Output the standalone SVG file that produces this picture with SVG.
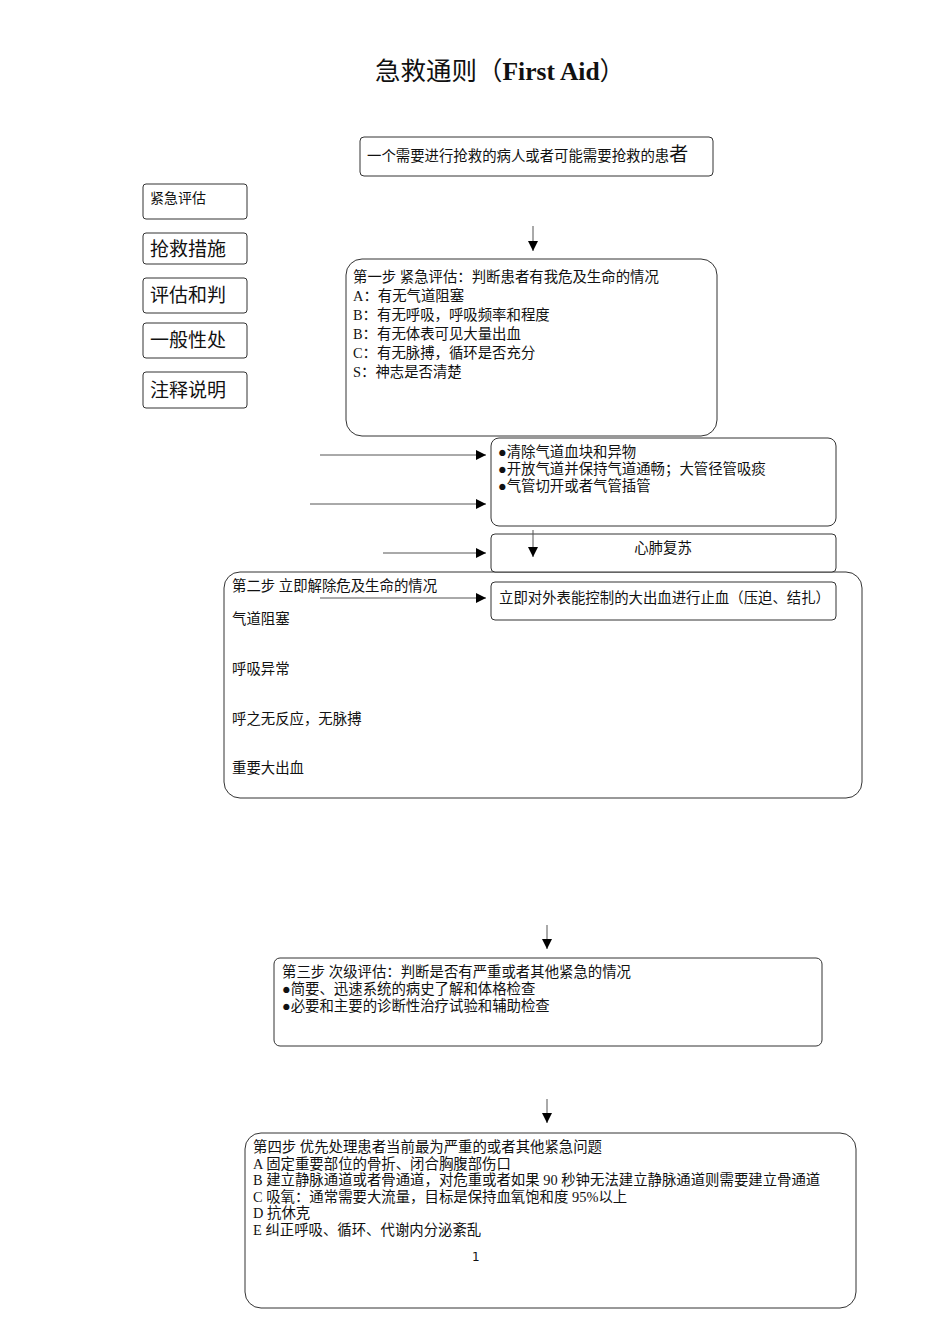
<svg xmlns="http://www.w3.org/2000/svg" width="950" height="1344" viewBox="0 0 950 1344">
<style>
.box{fill:#fff;stroke:#333;stroke-width:1}
.t{font-family:"Liberation Serif","Noto Sans CJK SC",serif;font-size:14.4px;fill:#111}
.lg{font-size:19px}
.sm{font-size:14px}
.ln{stroke:#555;stroke-width:1;fill:none}
</style>
<defs>
<marker id="ah" viewBox="0 0 10 10" refX="10" refY="5" markerWidth="10" markerHeight="10" markerUnits="userSpaceOnUse" orient="auto">
<path d="M0,0 L10,5 L0,10 Z" fill="#000"/>
</marker>
</defs>
<rect width="950" height="1344" fill="#fff"/>
<text id="title" x="375" y="80" class="t" style="font-size:25.5px">急救通则（<tspan font-weight="bold">First Aid</tspan>）</text>

<g id="legend1"><rect class="box" x="143" y="184" width="104" height="35" rx="3"/><text class="t sm" x="150" y="203">紧急评估</text></g>
<g id="legend2"><rect class="box" x="143" y="233" width="104" height="31" rx="3"/><text class="t lg" x="150" y="256">抢救措施</text></g>
<g id="legend3"><rect class="box" x="143" y="278" width="104" height="35" rx="3"/><text class="t lg" x="150" y="302">评估和判</text></g>
<g id="legend4"><rect class="box" x="143" y="323" width="104" height="35" rx="3"/><text class="t lg" x="150" y="347">一般性处</text></g>
<g id="legend5"><rect class="box" x="143" y="372" width="104" height="36" rx="3"/><text class="t lg" x="150" y="397">注释说明</text></g>

<g id="patient"><rect class="box" x="360" y="137" width="353" height="39" rx="4"/><text class="t" x="367" y="161">一个需要进行抢救的病人或者可能需要抢救的患<tspan style="font-size:19px">者</tspan></text></g>

<g id="step1"><rect class="box" x="346" y="259" width="371" height="177" rx="16"/>
<text class="t" x="353" y="282">第一步 紧急评估：判断患者有我危及生命的情况</text>
<text class="t" x="353" y="301">A：有无气道阻塞</text>
<text class="t" x="353" y="320">B：有无呼吸，呼吸频率和程度</text>
<text class="t" x="353" y="339">B：有无体表可见大量出血</text>
<text class="t" x="353" y="358">C：有无脉搏，循环是否充分</text>
<text class="t" x="353" y="377">S：神志是否清楚</text>
</g>

<g id="airway"><rect class="box" x="491" y="438" width="345" height="88" rx="8"/>
<text class="t" x="498" y="457">●清除气道血块和异物</text>
<text class="t" x="498" y="474">●开放气道并保持气道通畅；大管径管吸痰</text>
<text class="t" x="498" y="491">●气管切开或者气管插管</text>
</g>

<g id="step2"><rect class="box" x="224" y="572" width="638" height="226" rx="16"/>
<text class="t" x="232" y="591">第二步 立即解除危及生命的情况</text>
<text class="t" x="232" y="624">气道阻塞</text>
<text class="t" x="232" y="674">呼吸异常</text>
<text class="t" x="232" y="724">呼之无反应，无脉搏</text>
<text class="t" x="232" y="773">重要大出血</text>
</g>

<g id="cpr"><rect class="box" x="491" y="534" width="345" height="38" rx="4"/><text class="t" x="663" y="553" text-anchor="middle">心肺复苏</text></g>

<g id="bleeding"><rect class="box" x="491" y="582" width="345" height="38" rx="4"/><text class="t" x="499" y="603">立即对外表能控制的大出血进行止血（压迫、结扎）</text></g>

<g id="step3"><rect class="box" x="274" y="958" width="548" height="88" rx="6"/>
<text class="t" x="282" y="977">第三步 次级评估：判断是否有严重或者其他紧急的情况</text>
<text class="t" x="282" y="994">●简要、迅速系统的病史了解和体格检查</text>
<text class="t" x="282" y="1011">●必要和主要的诊断性治疗试验和辅助检查</text>
</g>

<g id="step4"><rect class="box" x="245" y="1133" width="611" height="175" rx="16"/>
<text class="t" x="253" y="1152">第四步 优先处理患者当前最为严重的或者其他紧急问题</text>
<text class="t" x="253" y="1169">A 固定重要部位的骨折、闭合胸腹部伤口</text>
<text class="t" x="253" y="1185">B 建立静脉通道或者骨通道，对危重或者如果 90 秒钟无法建立静脉通道则需要建立骨通道</text>
<text class="t" x="253" y="1202">C 吸氧：通常需要大流量，目标是保持血氧饱和度 95%以上</text>
<text class="t" x="253" y="1218">D 抗休克</text>
<text class="t" x="253" y="1235">E 纠正呼吸、循环、代谢内分泌紊乱</text>
<text class="t" x="472" y="1261" style="font-family:'DejaVu Sans',sans-serif;font-size:12px">1</text>
</g>

<g id="connectors">
<line class="ln" x1="533" y1="226" x2="533" y2="251" marker-end="url(#ah)"/>
<line class="ln" x1="320" y1="455" x2="486" y2="455" marker-end="url(#ah)"/>
<line class="ln" x1="310" y1="504" x2="486" y2="504" marker-end="url(#ah)"/>
<line class="ln" x1="383" y1="553" x2="486" y2="553" marker-end="url(#ah)"/>
<line class="ln" x1="320" y1="598" x2="486" y2="598" marker-end="url(#ah)"/>
<line class="ln" x1="533" y1="530" x2="533" y2="557" marker-end="url(#ah)"/>
<line class="ln" x1="547" y1="925" x2="547" y2="949" marker-end="url(#ah)"/>
<line class="ln" x1="547" y1="1099" x2="547" y2="1123" marker-end="url(#ah)"/>
</g>
</svg>
